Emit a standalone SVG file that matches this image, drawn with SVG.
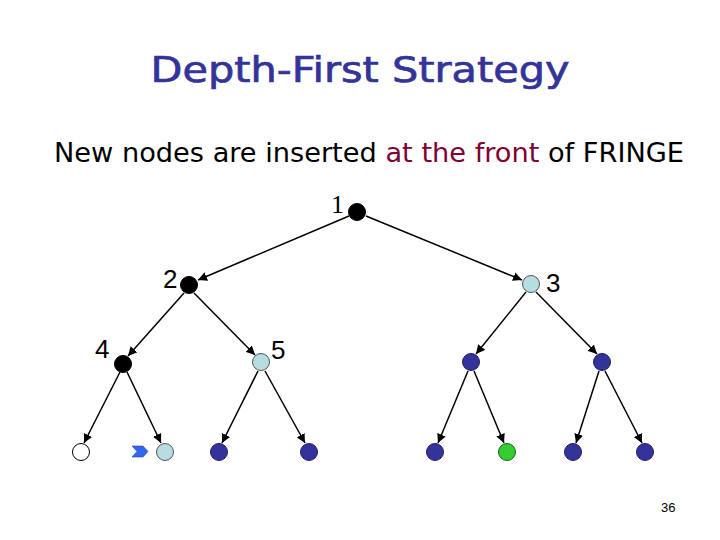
<svg xmlns="http://www.w3.org/2000/svg" width="720" height="540" viewBox="0 0 720 540">
<defs>
<marker id="ah" viewBox="0 0 10 10" refX="10" refY="5" markerWidth="9" markerHeight="9" markerUnits="userSpaceOnUse" orient="auto">
<path d="M0,0 L10,5 L0,10 z" fill="#000"/>
</marker>
</defs>
<style>
.title{font-family:"DejaVu Sans",sans-serif;font-size:36px;fill:#333399;stroke:#333399;stroke-width:0.7}
.sub{font-family:"DejaVu Sans",sans-serif;font-size:26px;fill:#000}
.lbl{font-family:"Liberation Sans",Arial,sans-serif;font-size:26px;fill:#000}
.e{stroke:#000;stroke-width:1.5;fill:none;marker-end:url(#ah)}
.black{fill:#000;stroke:#000}
.lb{fill:#b8dde0;stroke:#555;stroke-width:1}
.bl{fill:#333399;stroke:#222266;stroke-width:1}
.gr{fill:#33cc33;stroke:#1a661a;stroke-width:1}
.wh{fill:#fff;stroke:#000;stroke-width:1}
</style>
<rect width="720" height="540" fill="#fff"/>
<text class="title" x="360" y="82" text-anchor="middle" textLength="419" lengthAdjust="spacingAndGlyphs">Depth-First Strategy</text>
<text class="sub" x="54" y="162" textLength="630" lengthAdjust="spacingAndGlyphs">New nodes are inserted <tspan fill="#800033">at the front</tspan> of FRINGE</text>
<g id="connectors">
<line class="e" x1="349" y1="216" x2="198" y2="280"/>
<line class="e" x1="366" y1="216" x2="522" y2="280"/>
<line class="e" x1="184" y1="293" x2="128" y2="356"/>
<line class="e" x1="194" y1="293" x2="255" y2="355"/>
<line class="e" x1="526" y1="292" x2="476" y2="354"/>
<line class="e" x1="536" y1="292" x2="597" y2="354"/>
<line class="e" x1="120" y1="372" x2="84" y2="443"/>
<line class="e" x1="127" y1="372" x2="161" y2="443"/>
<line class="e" x1="258" y1="371" x2="222" y2="443"/>
<line class="e" x1="265" y1="371" x2="305" y2="443"/>
<line class="e" x1="468" y1="371" x2="438" y2="443"/>
<line class="e" x1="474" y1="371" x2="504" y2="443"/>
<line class="e" x1="599" y1="371" x2="576" y2="443"/>
<line class="e" x1="605" y1="371" x2="642" y2="443"/>
</g>
<g id="n1"><circle class="black" cx="357" cy="212" r="8.5"/><text class="lbl" x="331" y="213" style="font-family:'Liberation Serif',serif;font-size:26px">1</text></g>
<g id="n2"><circle class="black" cx="189" cy="285" r="8.5"/><text class="lbl" x="163" y="288">2</text></g>
<g id="n3"><circle class="lb" cx="531" cy="284" r="8.5"/><text class="lbl" x="546" y="292">3</text></g>
<g id="n4"><circle class="black" cx="123" cy="364" r="8.5"/><text class="lbl" x="95" y="358">4</text></g>
<g id="n5"><circle class="lb" cx="261" cy="362" r="8.5"/><text class="lbl" x="271" y="359">5</text></g>
<g id="n6"><circle class="bl" cx="471" cy="362" r="8.5"/></g>
<g id="n7"><circle class="bl" cx="602" cy="362" r="8.5"/></g>
<g id="n8"><circle class="wh" cx="81" cy="452" r="8.5"/></g>
<g id="n9"><circle class="lb" cx="165" cy="452" r="8.5"/></g>
<g id="pointer"><path d="M132,446 L143,446 L148,451.5 L143,457 L132,457 L137,451.5 z" fill="#3366ee" stroke="#2244aa" stroke-width="0.6"/></g>
<g id="n10"><circle class="bl" cx="219" cy="452" r="8.5"/></g>
<g id="n11"><circle class="bl" cx="309" cy="452" r="8.5"/></g>
<g id="n12"><circle class="bl" cx="435" cy="452" r="8.5"/></g>
<g id="n13"><circle class="gr" cx="507" cy="452" r="8.5"/></g>
<g id="n14"><circle class="bl" cx="573" cy="452" r="8.5"/></g>
<g id="n15"><circle class="bl" cx="645" cy="452" r="8.5"/></g>
<text x="661" y="512" style="font-family:'Liberation Sans',Arial,sans-serif;font-size:13px;fill:#000">36</text>
</svg>
